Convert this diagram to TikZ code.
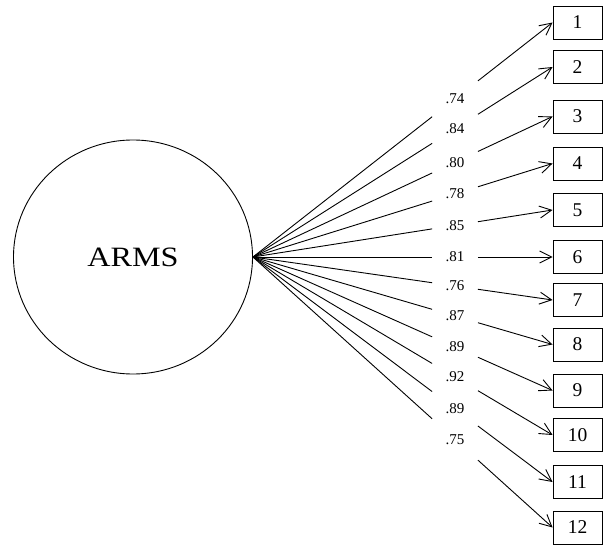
\documentclass[tikz,border=0pt]{standalone}
\usepackage{fontspec}
\setmainfont{Liberation Serif}
\usetikzlibrary{arrows.meta,shapes.geometric}

\begin{document}
\begin{tikzpicture}[x=1pt,y=-1pt,
  line width=0.9pt,
  latent/.style={draw,ellipse,inner sep=0pt,minimum width=239pt,minimum height=234pt,
    font=\fontsize{28}{28}\selectfont},
  item/.style={draw,rectangle,inner sep=0pt,minimum width=49pt,minimum height=33pt,
    font=\fontsize{19.5}{19.5}\selectfont},
  loading/.style={inner sep=0pt,font=\fontsize{15}{15}\selectfont},
  path arrow/.style={-{Straight Barb[length=12pt,width=12pt,line width=0.9pt]}}]
  \useasboundingbox (0,0) rectangle (603,545);

  % latent factor
  \node[latent] (arms) at (133,257) {\scalebox{1.15}[1]{ARMS}};

  % observed items with their standardized loadings
  \foreach \i/\y/\w in {1/22.5/.74, 2/67/.84, 3/116.5/.80, 4/163.5/.78,
                        5/210/.85, 6/257/.81, 7/300/.76, 8/344.5/.87,
                        9/390.5/.89, 10/435/.92, 11/482/.89, 12/527.5/.75}{
    \node[item] (b\i) at (577.5,\y) {\i};
    \path (arms.east) -- (b\i.west)
      coordinate[pos=0.598] (s\i)
      coordinate[pos=0.751] (t\i)
      node[pos=0.674,loading] (w\i) {\w};
    \draw (arms.east) -- (s\i);
    \draw[path arrow] (t\i) -- (b\i.west);
  }
\end{tikzpicture}
\end{document}
